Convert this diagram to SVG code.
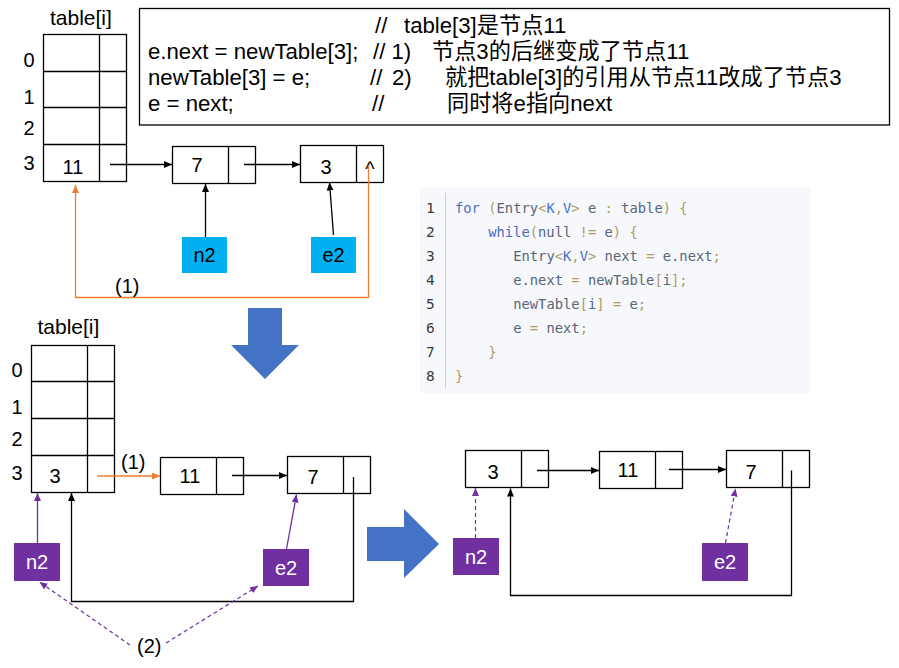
<svg xmlns="http://www.w3.org/2000/svg" width="899" height="668" viewBox="0 0 899 668">
<defs>
<marker id="ab" markerWidth="8" markerHeight="7" refX="8" refY="3.5" orient="auto" markerUnits="userSpaceOnUse"><path d="M0,0 L8,3.5 L0,7 z" fill="#000"/></marker>
<marker id="ao" markerWidth="8" markerHeight="7" refX="8" refY="3.5" orient="auto" markerUnits="userSpaceOnUse"><path d="M0,0 L8,3.5 L0,7 z" fill="#ED7D31"/></marker>
<marker id="ap" markerWidth="8" markerHeight="7" refX="8" refY="3.5" orient="auto" markerUnits="userSpaceOnUse"><path d="M0,0 L8,3.5 L0,7 z" fill="#7030A0"/></marker>
</defs>
<style>
text{font-family:"Liberation Sans","Noto Sans CJK SC",sans-serif;fill:#000}
.t{font-size:20px}
.tb{font-size:21px}
.c{font-size:22.2px}
.box{fill:#fff;stroke:#000;stroke-width:1.3}
.ln{stroke:#000;stroke-width:1.3;fill:none}
.blk{stroke:#000;stroke-width:1.3;fill:none}
.org{stroke:#ED7D31;stroke-width:1.3;fill:none}
.pur{stroke:#7030A0;stroke-width:1.3;fill:none}
.pd{stroke:#7030A0;stroke-width:1.2;fill:none;stroke-dasharray:4 3}
.cy{fill:#00B0F0}
.pu{fill:#7030A0}
.wt{fill:#fff}
.big{fill:#4472C4}
.code{font-family:"DejaVu Sans Mono","Liberation Mono",monospace;font-size:13.8px;fill:#5a6577}
.num{font-family:"DejaVu Sans Mono","Liberation Mono",monospace;font-size:14.5px;fill:#3a3a3a}
.kw{fill:#4a6dc4}
.p{fill:#b39a63}
</style>

<g id="comment-box">
<rect x="139.5" y="8.5" width="750" height="116.5" fill="#fff" stroke="#000" stroke-width="1.3"/>
<text class="c" x="375" y="33">//</text>
<text class="c" x="404" y="33">table[3]是节点11</text>
<text class="c" x="148" y="59">e.next = newTable[3];</text>
<text class="c" x="373" y="59">// 1)</text>
<text class="c" x="432" y="59">节点3的后继变成了节点11</text>
<text class="c" x="148" y="85">newTable[3] = e;</text>
<text class="c" x="370" y="85">//</text>
<text class="c" x="392" y="85">2)</text>
<text class="c" x="445" y="85">就把table[3]的引用从节点11改成了节点3</text>
<text class="c" x="148" y="111">e = next;</text>
<text class="c" x="372" y="111">//</text>
<text class="c" x="447" y="111">同时将e指向next</text>
</g>

<g id="code-block">
<rect x="420" y="187" width="391" height="206" fill="#f6f8fc"/>
<line x1="445.5" y1="193" x2="445.5" y2="388" stroke="#cfcfcf" stroke-width="1"/>
<text class="num" x="426" y="213">1</text>
<text class="num" x="426" y="237">2</text>
<text class="num" x="426" y="261">3</text>
<text class="num" x="426" y="285">4</text>
<text class="num" x="426" y="309">5</text>
<text class="num" x="426" y="333">6</text>
<text class="num" x="426" y="357">7</text>
<text class="num" x="426" y="381">8</text>
<text class="code" x="455" y="212.5" xml:space="preserve"><tspan class="kw">for</tspan> <tspan class="p">(</tspan>Entry<tspan class="p">&lt;</tspan><tspan class="kw">K</tspan><tspan class="p">,</tspan><tspan class="kw">V</tspan><tspan class="p">&gt;</tspan> e <tspan class="p">:</tspan> table<tspan class="p">)</tspan> <tspan class="p">{</tspan></text>
<text class="code" x="488.2" y="236.5" xml:space="preserve"><tspan class="kw">while</tspan><tspan class="p">(</tspan>null <tspan class="p">!=</tspan> e<tspan class="p">)</tspan> <tspan class="p">{</tspan></text>
<text class="code" x="513.2" y="260.5" xml:space="preserve">Entry<tspan class="p">&lt;</tspan><tspan class="kw">K</tspan><tspan class="p">,</tspan><tspan class="kw">V</tspan><tspan class="p">&gt;</tspan> next <tspan class="p">=</tspan> e.next<tspan class="p">;</tspan></text>
<text class="code" x="513.2" y="284.5" xml:space="preserve">e.next <tspan class="p">=</tspan> newTable<tspan class="p">[</tspan>i<tspan class="p">];</tspan></text>
<text class="code" x="513.2" y="308.5" xml:space="preserve">newTable<tspan class="p">[</tspan>i<tspan class="p">]</tspan> <tspan class="p">=</tspan> e<tspan class="p">;</tspan></text>
<text class="code" x="513.2" y="332.5" xml:space="preserve">e <tspan class="p">=</tspan> next<tspan class="p">;</tspan></text>
<text class="code" x="488.2" y="356.5"><tspan class="p">}</tspan></text>
<text class="code" x="455" y="380.5"><tspan class="p">}</tspan></text>
</g>

<!-- Top state -->
<g id="table-top">
<text class="tb" x="50" y="25">table[i]</text>
<rect class="box" x="43.5" y="34.5" width="83" height="147"/>
<line class="ln" x1="43.5" y1="71.5" x2="126.5" y2="71.5"/>
<line class="ln" x1="43.5" y1="107.5" x2="126.5" y2="107.5"/>
<line class="ln" x1="43.5" y1="144.5" x2="126.5" y2="144.5"/>
<line class="ln" x1="99.5" y1="34.5" x2="99.5" y2="181.5"/>
<text class="t" x="29" y="67" text-anchor="middle">0</text>
<text class="t" x="29" y="104" text-anchor="middle">1</text>
<text class="t" x="29" y="135" text-anchor="middle">2</text>
<text class="t" x="29" y="170" text-anchor="middle">3</text>
<text class="t" x="73" y="174" text-anchor="middle">11</text>
</g>
<g id="node-top-7">
<rect class="box" x="172.5" y="146.5" width="83" height="37"/>
<line class="ln" x1="228.5" y1="146.5" x2="228.5" y2="183.5"/>
<text class="t" x="197" y="172" text-anchor="middle">7</text>
</g>
<g id="node-top-3">
<rect class="box" x="300.5" y="145.5" width="83" height="37"/>
<line class="ln" x1="356.5" y1="145.5" x2="356.5" y2="182.5"/>
<text class="t" x="326" y="174" text-anchor="middle">3</text>
<text class="t" x="370" y="176" text-anchor="middle">^</text>
</g>
<g id="n2-top">
<rect class="cy" x="182" y="237" width="45" height="36"/>
<text class="t" x="204.5" y="262" text-anchor="middle">n2</text>
</g>
<g id="e2-top">
<rect class="cy" x="311" y="237" width="45" height="36"/>
<text class="t" x="333.5" y="262" text-anchor="middle">e2</text>
</g>

<!-- Bottom-left state -->
<g id="table-bottom">
<text class="tb" x="37.5" y="334">table[i]</text>
<rect class="box" x="31.5" y="345.5" width="83" height="147"/>
<line class="ln" x1="31.5" y1="381.5" x2="114.5" y2="381.5"/>
<line class="ln" x1="31.5" y1="418.5" x2="114.5" y2="418.5"/>
<line class="ln" x1="31.5" y1="455.5" x2="114.5" y2="455.5"/>
<line class="ln" x1="87.5" y1="345.5" x2="87.5" y2="492.5"/>
<text class="t" x="17" y="377" text-anchor="middle">0</text>
<text class="t" x="17" y="414" text-anchor="middle">1</text>
<text class="t" x="17" y="446" text-anchor="middle">2</text>
<text class="t" x="17" y="480" text-anchor="middle">3</text>
<text class="t" x="55" y="483" text-anchor="middle">3</text>
</g>
<g id="node-bl-11">
<rect class="box" x="160.5" y="457.5" width="83" height="37"/>
<line class="ln" x1="216.5" y1="457.5" x2="216.5" y2="494.5"/>
<text class="t" x="190" y="483" text-anchor="middle">11</text>
</g>
<g id="node-bl-7">
<rect class="box" x="287.5" y="456.5" width="83" height="37"/>
<line class="ln" x1="343.5" y1="456.5" x2="343.5" y2="493.5"/>
<text class="t" x="313" y="484" text-anchor="middle">7</text>
</g>
<g id="n2-bl">
<rect class="pu" x="14" y="543" width="46" height="38"/>
<text class="t wt" x="37" y="569" text-anchor="middle">n2</text>
</g>
<g id="e2-bl">
<rect class="pu" x="263" y="549" width="46" height="37"/>
<text class="t wt" x="286" y="575" text-anchor="middle">e2</text>
</g>

<!-- Bottom-right state -->
<g id="node-br-3">
<rect class="box" x="465.5" y="450.5" width="83" height="37"/>
<line class="ln" x1="521.5" y1="450.5" x2="521.5" y2="487.5"/>
<text class="t" x="493" y="479" text-anchor="middle">3</text>
</g>
<g id="node-br-11">
<rect class="box" x="599.5" y="451.5" width="83" height="37"/>
<line class="ln" x1="655.5" y1="451.5" x2="655.5" y2="488.5"/>
<text class="t" x="628" y="477" text-anchor="middle">11</text>
</g>
<g id="node-br-7">
<rect class="box" x="726.5" y="450.5" width="83" height="37"/>
<line class="ln" x1="782.5" y1="450.5" x2="782.5" y2="487.5"/>
<text class="t" x="751" y="479" text-anchor="middle">7</text>
</g>
<g id="n2-br">
<rect class="pu" x="453" y="538" width="46" height="37"/>
<text class="t wt" x="476" y="564" text-anchor="middle">n2</text>
</g>
<g id="e2-br">
<rect class="pu" x="702" y="543" width="46" height="38"/>
<text class="t wt" x="725" y="569" text-anchor="middle">e2</text>
</g>

<g id="big-arrows">
<polygon class="big" points="248,308 282,308 282,345 299,345 265,379 231,345 248,345"/>
<polygon class="big" points="367,527 404,527 404,509 439,544 404,578 404,561 367,561"/>
</g>

<g id="connectors">
<line class="blk" x1="110" y1="164.5" x2="172" y2="164.5" marker-end="url(#ab)"/>
<line class="blk" x1="244" y1="164.5" x2="300" y2="164.5" marker-end="url(#ab)"/>
<line class="blk" x1="205.5" y1="237" x2="205.5" y2="184" marker-end="url(#ab)"/>
<line class="blk" x1="333.5" y1="235" x2="329.5" y2="182.5" marker-end="url(#ab)"/>
<polyline class="org" points="368.5,166 368.5,297.5 75.5,297.5 75.5,185" marker-end="url(#ao)"/>
<text class="t" x="115" y="293">(1)</text>

<line class="org" x1="97" y1="476" x2="160" y2="476" marker-end="url(#ao)"/>
<text class="t" x="121" y="469">(1)</text>
<line class="blk" x1="232" y1="475.5" x2="287" y2="475.5" marker-end="url(#ab)"/>
<polyline class="blk" points="353.5,477 353.5,601.5 71.5,601.5 71.5,493" marker-end="url(#ab)"/>
<line class="pur" x1="37.5" y1="543" x2="37.5" y2="493" marker-end="url(#ap)"/>
<line class="pur" x1="286.5" y1="549" x2="296.5" y2="494.5" marker-end="url(#ap)"/>
<line class="pd" x1="130" y1="645" x2="39.5" y2="582" marker-end="url(#ap)"/>
<line class="pd" x1="166" y1="643" x2="258" y2="586" marker-end="url(#ap)"/>
<text class="t" x="137" y="653">(2)</text>

<line class="blk" x1="537" y1="470.5" x2="599" y2="470.5" marker-end="url(#ab)"/>
<line class="blk" x1="669" y1="469.5" x2="726" y2="469.5" marker-end="url(#ab)"/>
<polyline class="blk" points="791.5,470.5 791.5,595.5 510.5,595.5 510.5,488.5" marker-end="url(#ab)"/>
<line class="pd" x1="475.5" y1="538" x2="475.5" y2="488" marker-end="url(#ap)"/>
<line class="pd" x1="725.5" y1="543" x2="735.5" y2="488.5" marker-end="url(#ap)"/>
</g>
</svg>
